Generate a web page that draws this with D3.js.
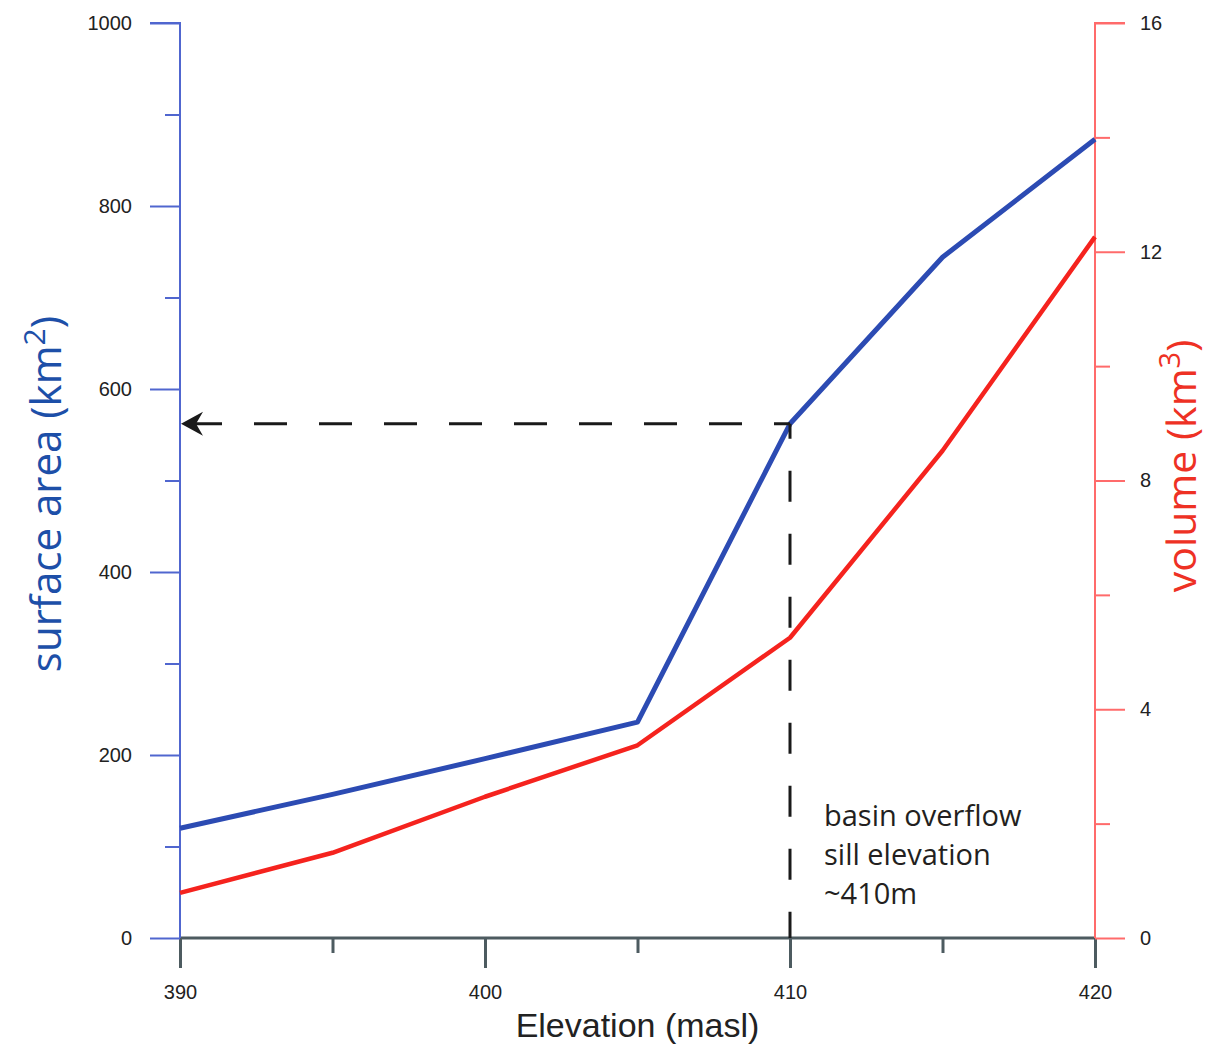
<!DOCTYPE html>
<html>
<head>
<meta charset="utf-8">
<script src="https://cdn.jsdelivr.net/npm/d3@7"></script>
<style>
  body { margin: 0; background: #fff; }
  svg { display: block; }
</style>
</head>
<body>
<script>
// elevation vs surface area / volume
var elevation = [390, 395, 400, 405, 410, 415, 420];
var area = [120, 157, 196, 236, 562, 744, 873];        // km2
var volume = [0.79, 1.49, 2.47, 3.37, 5.25, 8.52, 12.26]; // km3

var xMajor = [390, 400, 410, 420];
var xMinor = [395, 405, 415];
var areaMajor = [0, 200, 400, 600, 800, 1000];
var areaMinor = [100, 300, 500, 700, 900];
var volMajor = [0, 4, 8, 12, 16];
var volMinor = [2, 6, 10, 14];

var sillElev = 410, sillArea = 562;

var W = 1211, H = 1047;
var margin = {top: 23, left: 180, right: 116, bottom: 109},
    width = W - margin.left - margin.right,
    height = H - margin.top - margin.bottom;

var svg = d3.select("body").append("svg")
    .attr("width", W)
    .attr("height", H)
  .append("g")
    .attr("transform", "translate(" + margin.left + "," + margin.top + ")");

var x = d3.scaleLinear().domain([390, 420]).range([0, width]);
var yA = d3.scaleLinear().domain([0, 1000]).range([height, 0]);
var yV = d3.scaleLinear().domain([0, 16]).range([height, 0]);

var tickFont = "'Liberation Sans', Arial, sans-serif";
var fmt = d3.format("d");

//left axis (blue)
var gl = svg.append("g")
    .call(d3.axisLeft(yA).tickValues(areaMajor).tickFormat(fmt).tickSize(30).tickPadding(18));
var glm = svg.append("g")
    .call(d3.axisLeft(yA).tickValues(areaMinor).tickSize(15).tickFormat(""));
glm.select(".domain").remove();

//right axis (red)
var gr = svg.append("g")
    .attr("transform", "translate(" + width + ",0)")
    .call(d3.axisRight(yV).tickValues(volMajor).tickFormat(fmt).tickSize(30).tickPadding(15));
var grm = svg.append("g")
    .attr("transform", "translate(" + width + ",0)")
    .call(d3.axisRight(yV).tickValues(volMinor).tickSize(15).tickFormat(""));
grm.select(".domain").remove();

//bottom axis
var gb = svg.append("g")
    .attr("transform", "translate(0," + height + ")")
    .call(d3.axisBottom(x).tickValues(xMajor).tickFormat(fmt).tickSize(30).tickPadding(17));
var gbm = svg.append("g")
    .attr("transform", "translate(0," + height + ")")
    .call(d3.axisBottom(x).tickValues(xMinor).tickSize(15).tickFormat(""));
gbm.select(".domain").remove();

// axis styling
svg.selectAll(".tick text")
    .style("font-family", tickFont)
    .style("font-size", "20px")
    .style("fill", "#222");

function colorAxis(sel, col, w) {
  sel.selectAll("path.domain").attr("stroke", col).attr("stroke-width", w);
  sel.selectAll(".tick line").attr("stroke", col).attr("stroke-width", w);
}
colorAxis(gl, "#5066cf", 2);
colorAxis(glm, "#5066cf", 2);
colorAxis(gr, "#ff6b6b", 2);
colorAxis(grm, "#ff6b6b", 2);
colorAxis(gb, "#4d5b60", 3);
colorAxis(gbm, "#4d5b60", 3);
gl.select(".domain").attr("d", "M0," + height + "V0H-30");
gr.select(".domain").attr("d", "M0," + height + "V0H30");
gb.select(".domain").attr("d", "M0,0H" + width);
gl.raise(); gr.raise();

//lines
var lineA = d3.line()
    .x(function(d, i){ return x(elevation[i]); })
    .y(function(d){ return yA(d); });
var lineV = d3.line()
    .x(function(d, i){ return x(elevation[i]); })
    .y(function(d){ return yV(d); });

svg.append("path")
    .datum(volume)
    .attr("d", lineV)
    .attr("fill", "none")
    .attr("stroke", "#f5231e")
    .attr("stroke-width", 4.5)
    .attr("stroke-linejoin", "round");

svg.append("path")
    .datum(area)
    .attr("d", lineA)
    .attr("fill", "none")
    .attr("stroke", "#2c4bb3")
    .attr("stroke-width", 5)
    .attr("stroke-linejoin", "round");

//dashed sill lines
var sx = x(sillElev), sy = yA(sillArea);
svg.append("line")
    .attr("x1", sx).attr("y1", sy)
    .attr("x2", x(390) + 3).attr("y2", sy)
    .attr("stroke", "#1a1a1a")
    .attr("stroke-width", 3)
    .attr("stroke-dasharray", "33,32")
    .attr("stroke-dashoffset", 17);
svg.append("line")
    .attr("x1", sx).attr("y1", sy)
    .attr("x2", sx).attr("y2", height)
    .attr("stroke", "#1a1a1a")
    .attr("stroke-width", 3)
    .attr("stroke-dasharray", "31,32")
    .attr("stroke-dashoffset", 16);
// arrowhead
var ax = x(390) + 1;
svg.append("path")
    .attr("d", "M" + ax + "," + sy + "L" + (ax + 22) + "," + (sy - 12) +
               "L" + (ax + 15) + "," + sy + "L" + (ax + 22) + "," + (sy + 12) + "Z")
    .attr("fill", "#1a1a1a");

//annotation
var note = svg.append("text")
    .attr("x", sx + 34)
    .attr("y", 803)
    .style("font-family", "'Open Sans', sans-serif")
    .style("font-size", "29px")
    .style("fill", "#231f20");
["basin overflow", "sill elevation", "~410m"].forEach(function(t, i){
  note.append("tspan").attr("x", sx + 34).attr("dy", i === 0 ? 0 : 39).text(t);
});

//titles
svg.append("text")
    .attr("x", width / 2)
    .attr("y", H - margin.top - 10)
    .attr("text-anchor", "middle")
    .style("font-family", tickFont)
    .style("font-size", "34px")
    .style("fill", "#222")
    .text("Elevation (masl)");

var tl = svg.append("text")
    .attr("transform", "translate(" + (61 - margin.left) + "," + (494 - margin.top) + ") rotate(-90)")
    .attr("text-anchor", "middle")
    .style("font-family", "'Open Sans', sans-serif")
    .style("font-size", "42px")
    .style("fill", "#1d4fa8");
tl.append("tspan").text("surface area (km");
tl.append("tspan").attr("dy", -16).style("font-size", "30px").text("2");
tl.append("tspan").attr("dy", 16).text(")");

var tr = svg.append("text")
    .attr("transform", "translate(" + (1196 - margin.left) + "," + (466 - margin.top) + ") rotate(-90)")
    .attr("text-anchor", "middle")
    .style("font-family", "'Open Sans', sans-serif")
    .style("font-size", "41px")
    .style("fill", "#ee3124");
tr.append("tspan").text("volume (km");
tr.append("tspan").attr("dy", -16).style("font-size", "29px").text("3");
tr.append("tspan").attr("dy", 16).text(")");
</script>
</body>
</html>
